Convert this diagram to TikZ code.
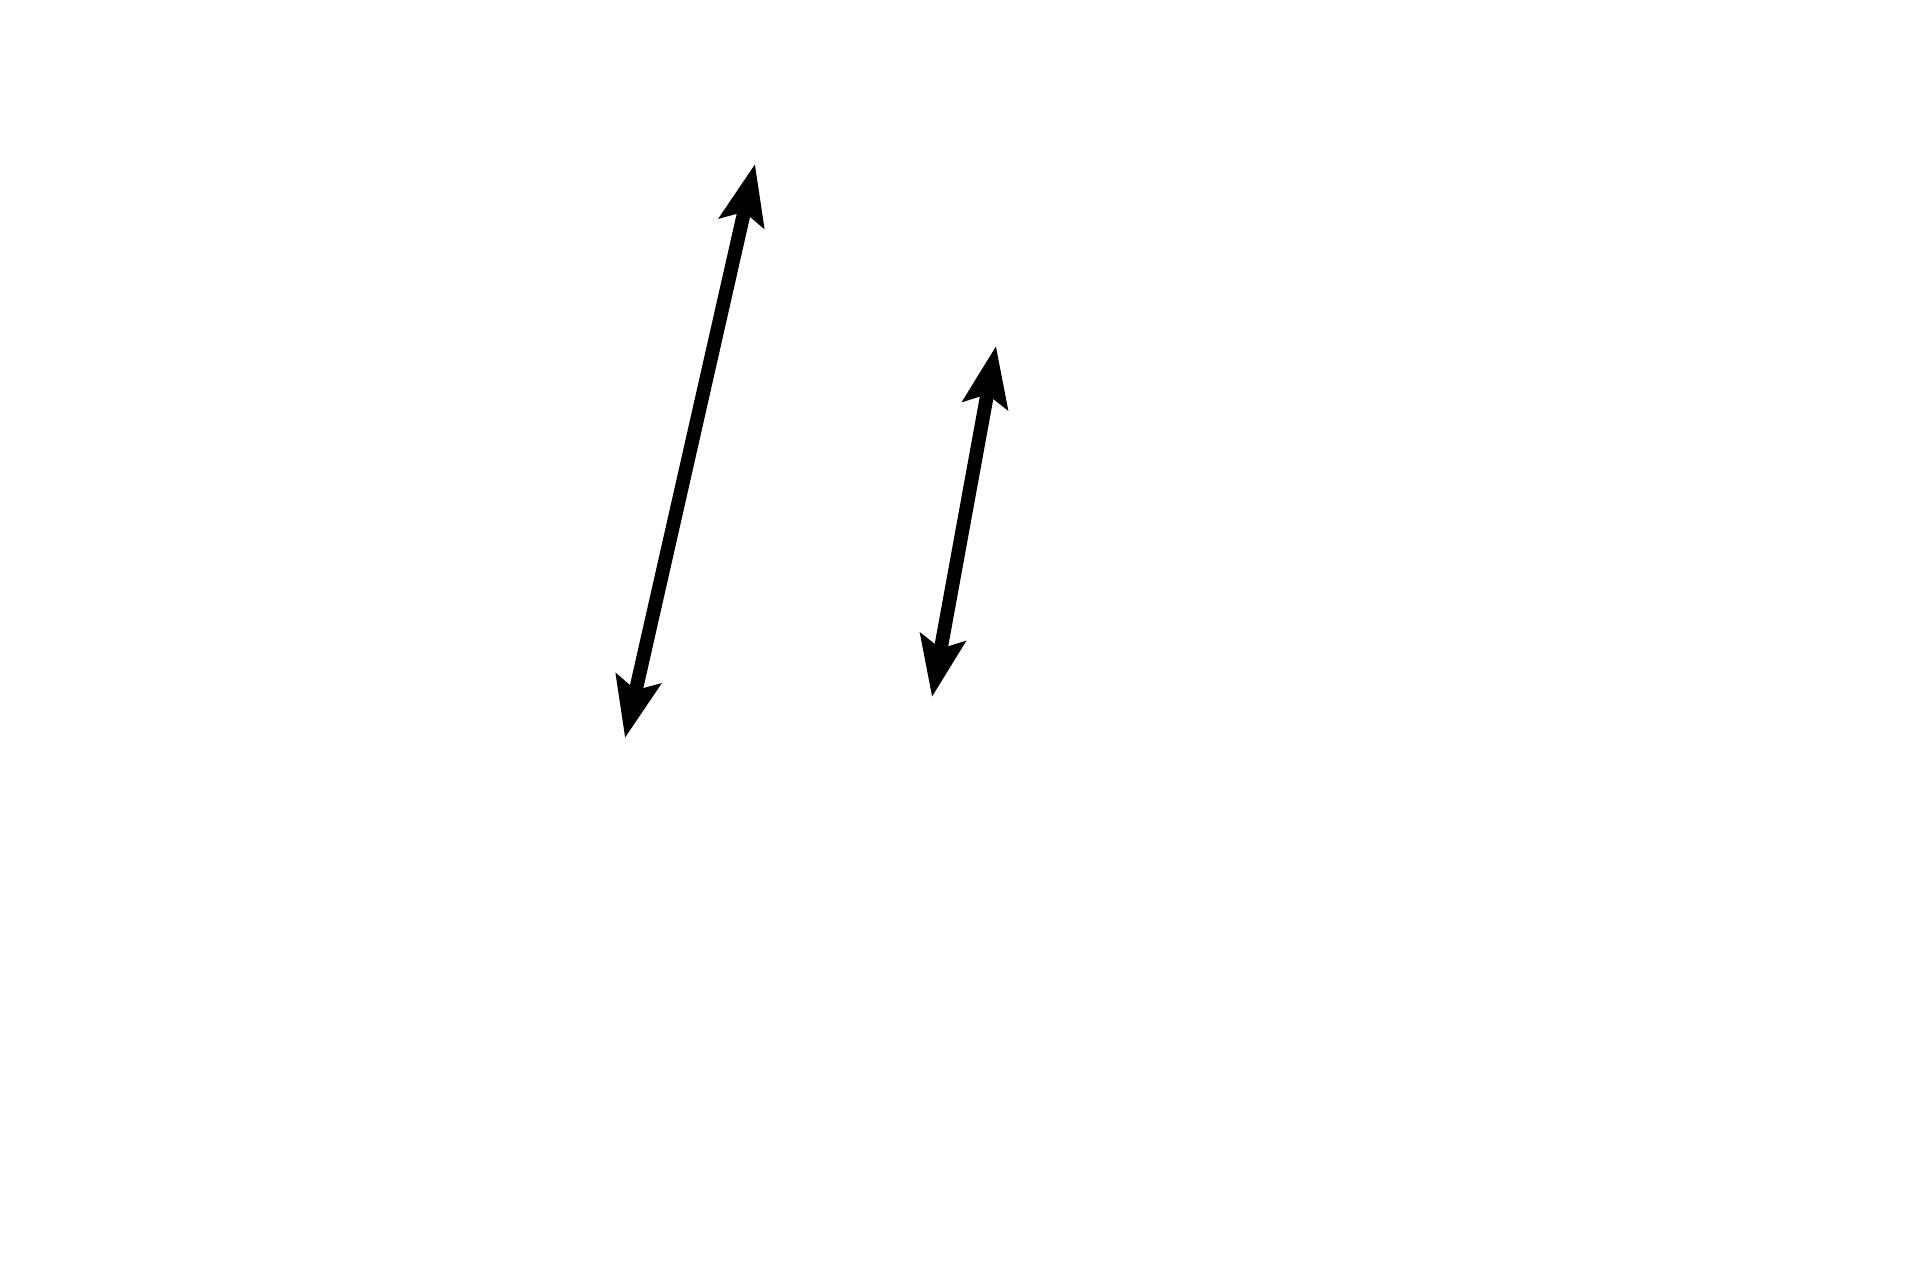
\documentclass[tikz,border=0pt]{standalone}
\usetikzlibrary{arrows.meta}
\tikzset{
    twoway/.style={{Stealth[length=6mm, width=4.5mm, inset=1.1mm]}-{Stealth[length=6mm, width=4.5mm, inset=1.1mm]}, line width=3.9pt, black},
}
\begin{document}
\begin{tikzpicture}
    \useasboundingbox[fill=white] (0, 0) rectangle (19.2, 12.8);

    % Long arrow
    \coordinate (longLow) at (6.25, 5.42);
    \coordinate (longHigh) at (7.55, 11.16);
    \draw[twoway] (longLow) -- (longHigh);

    % Short arrow
    \coordinate (shortLow) at (9.32, 5.83);
    \coordinate (shortHigh) at (9.96, 9.34);
    \draw[twoway] (shortLow) -- (shortHigh);

\end{tikzpicture}
\end{document}
